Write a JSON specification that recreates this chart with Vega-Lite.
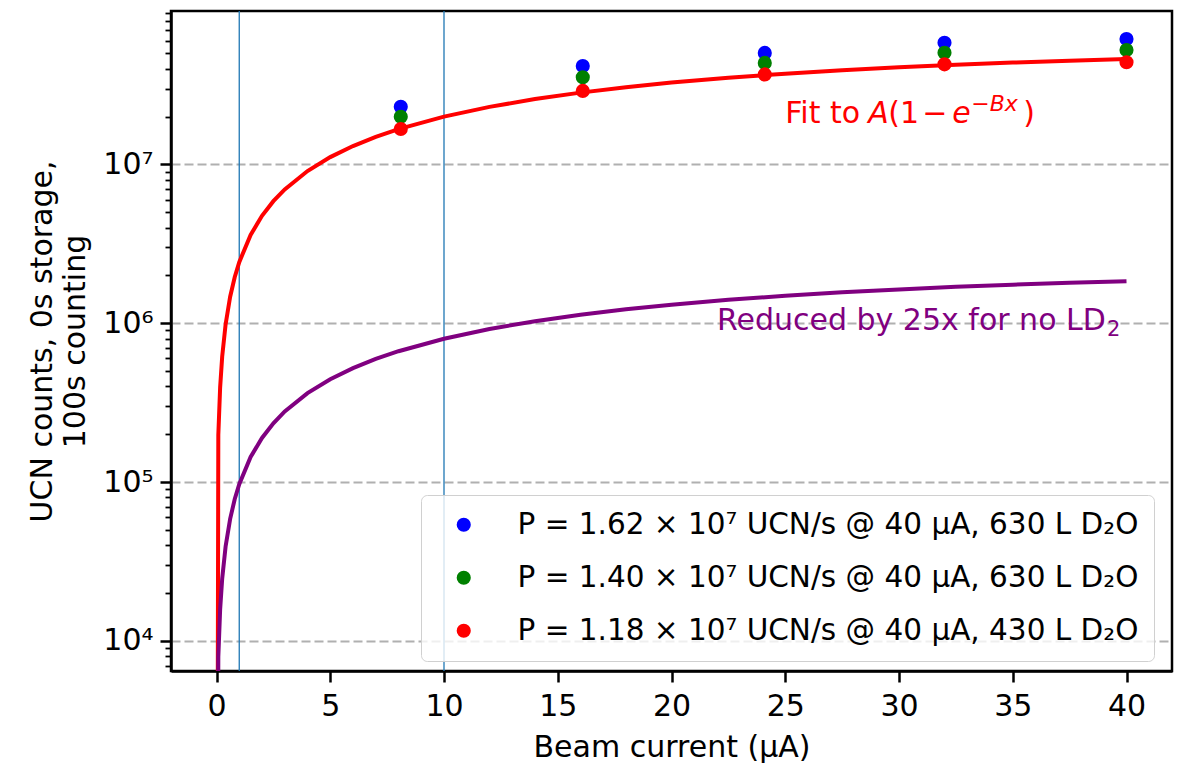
{
  "$schema": "https://vega.github.io/schema/vega-lite/v6.json",
  "width": 1001,
  "height": 660,
  "autosize": {"type": "none"},
  "padding": {"left": 171, "top": 11, "right": 7, "bottom": 93},
  "background": "white",
  "config": {
    "view": {"stroke": "black", "strokeWidth": 2.5},
    "font": "DejaVu Sans",
    "axis": {
      "domainColor": "black", "domainWidth": 2.5, "tickColor": "black",
      "labelColor": "black", "titleColor": "black",
      "labelFont": "DejaVu Sans", "titleFont": "DejaVu Sans",
      "titleFontWeight": "normal", "labelFontSize": 30, "titleFontSize": 30
    }
  },
  "datasets": {
    "vlines": [{"x": 1}, {"x": 10}],
    "fit": [
      {"x": 0, "y": 1}, {"x": 0.08, "y": 198000}, {"x": 0.16, "y": 395300}, {"x": 0.25, "y": 616400},
      {"x": 0.4, "y": 982900}, {"x": 0.6, "y": 1467800}, {"x": 0.8, "y": 1948300}, {"x": 1, "y": 2424600},
      {"x": 1.5, "y": 3596500}, {"x": 2, "y": 4742400}, {"x": 2.5, "y": 5863200}, {"x": 3, "y": 6958200},
      {"x": 4, "y": 9076600}, {"x": 5, "y": 11102000}, {"x": 6, "y": 13038000}, {"x": 7, "y": 14889000},
      {"x": 8, "y": 16658000}, {"x": 10, "y": 19967000}, {"x": 12, "y": 22991000}, {"x": 14, "y": 25754000},
      {"x": 16, "y": 28280000}, {"x": 18, "y": 30588000}, {"x": 20, "y": 32698000}, {"x": 22.5, "y": 35082000},
      {"x": 25, "y": 37212000}, {"x": 27.5, "y": 39115000}, {"x": 30, "y": 40816000}, {"x": 32.5, "y": 42337000},
      {"x": 35, "y": 43694000}, {"x": 37.5, "y": 44907000}, {"x": 40, "y": 45992000}
    ],
    "reduced": [
      {"x": 0, "y": 1}, {"x": 0.08, "y": 7920}, {"x": 0.16, "y": 15812}, {"x": 0.25, "y": 24656},
      {"x": 0.4, "y": 39316}, {"x": 0.6, "y": 58712}, {"x": 0.8, "y": 77932}, {"x": 1, "y": 96984},
      {"x": 1.5, "y": 143860}, {"x": 2, "y": 189696}, {"x": 2.5, "y": 234528}, {"x": 3, "y": 278328},
      {"x": 4, "y": 363064}, {"x": 5, "y": 444080}, {"x": 6, "y": 521520}, {"x": 7, "y": 595560},
      {"x": 8, "y": 666320}, {"x": 10, "y": 798680}, {"x": 12, "y": 919640}, {"x": 14, "y": 1030160},
      {"x": 16, "y": 1131200}, {"x": 18, "y": 1223520}, {"x": 20, "y": 1307920}, {"x": 22.5, "y": 1403280},
      {"x": 25, "y": 1488480}, {"x": 27.5, "y": 1564600}, {"x": 30, "y": 1632640}, {"x": 32.5, "y": 1693480},
      {"x": 35, "y": 1747760}, {"x": 37.5, "y": 1796280}, {"x": 40, "y": 1839680}
    ],
    "points": [
      {"x": 8.1, "y": 23000000, "series": "P = 1.62 × 10⁷ UCN/s @ 40 μA, 630 L D₂O"},
      {"x": 16.1, "y": 41600000, "series": "P = 1.62 × 10⁷ UCN/s @ 40 μA, 630 L D₂O"},
      {"x": 24.1, "y": 50300000, "series": "P = 1.62 × 10⁷ UCN/s @ 40 μA, 630 L D₂O"},
      {"x": 32, "y": 58200000, "series": "P = 1.62 × 10⁷ UCN/s @ 40 μA, 630 L D₂O"},
      {"x": 40, "y": 61500000, "series": "P = 1.62 × 10⁷ UCN/s @ 40 μA, 630 L D₂O"},
      {"x": 8.1, "y": 19900000, "series": "P = 1.40 × 10⁷ UCN/s @ 40 μA, 630 L D₂O"},
      {"x": 16.1, "y": 35300000, "series": "P = 1.40 × 10⁷ UCN/s @ 40 μA, 630 L D₂O"},
      {"x": 24.1, "y": 43500000, "series": "P = 1.40 × 10⁷ UCN/s @ 40 μA, 630 L D₂O"},
      {"x": 32, "y": 50400000, "series": "P = 1.40 × 10⁷ UCN/s @ 40 μA, 630 L D₂O"},
      {"x": 40, "y": 52400000, "series": "P = 1.40 × 10⁷ UCN/s @ 40 μA, 630 L D₂O"},
      {"x": 8.1, "y": 16700000, "series": "P = 1.18 × 10⁷ UCN/s @ 40 μA, 430 L D₂O"},
      {"x": 16.1, "y": 29000000, "series": "P = 1.18 × 10⁷ UCN/s @ 40 μA, 430 L D₂O"},
      {"x": 24.1, "y": 36800000, "series": "P = 1.18 × 10⁷ UCN/s @ 40 μA, 430 L D₂O"},
      {"x": 32, "y": 42600000, "series": "P = 1.18 × 10⁷ UCN/s @ 40 μA, 430 L D₂O"},
      {"x": 40, "y": 43900000, "series": "P = 1.18 × 10⁷ UCN/s @ 40 μA, 430 L D₂O"}
    ],
    "fitlabel": [{"x": 25, "y": 18100000}],
    "redlabel": [{"x": 22, "y": 906000}]
  },
  "layer": [
    {
      "data": {"name": "points"},
      "mark": {"type": "circle", "size": 200, "opacity": 1},
      "encoding": {
        "x": {
          "field": "x", "type": "quantitative",
          "scale": {"domain": [-2, 42], "nice": false, "zero": false},
          "axis": {
            "values": [0, 5, 10, 15, 20, 25, 30, 35, 40],
            "tickSize": 11, "tickWidth": 2.5, "labelPadding": 9,
            "title": "Beam current (μA)", "titlePadding": 11, "grid": false
          }
        },
        "y": {
          "field": "y", "type": "quantitative",
          "scale": {"type": "log", "domain": [6470, 92300000], "nice": false, "zero": false},
          "axis": {
            "values": [7000, 8000, 9000, 10000, 20000, 30000, 40000, 50000, 60000, 70000, 80000, 90000,
                       100000, 200000, 300000, 400000, 500000, 600000, 700000, 800000, 900000,
                       1000000, 2000000, 3000000, 4000000, 5000000, 6000000, 7000000, 8000000, 9000000,
                       10000000, 20000000, 30000000, 40000000, 50000000, 60000000, 70000000, 80000000, 90000000],
            "labelExpr": "indexof([10000,100000,1000000,10000000], datum.value) >= 0 ? '10' + ['⁴','⁵','⁶','⁷'][indexof([10000,100000,1000000,10000000], datum.value)] : ''",
            "tickSize": {"condition": {"test": "indexof([10000,100000,1000000,10000000], datum.value) >= 0", "value": 11}, "value": 6},
            "tickWidth": {"condition": {"test": "indexof([10000,100000,1000000,10000000], datum.value) >= 0", "value": 2.5}, "value": 1.8},
            "grid": true, "gridColor": "#b0b0b0", "gridDash": [9, 4], "gridWidth": 2,
            "gridOpacity": {"condition": {"test": "indexof([10000,100000,1000000,10000000], datum.value) >= 0", "value": 1}, "value": 0},
            "labelPadding": 7,
            "title": ["UCN counts, 0s storage,", "100s counting"],
            "titlePadding": 12, "titleLineHeight": 33
          }
        },
        "color": {
          "field": "series", "type": "nominal",
          "scale": {
            "domain": ["P = 1.62 × 10⁷ UCN/s @ 40 μA, 630 L D₂O", "P = 1.40 × 10⁷ UCN/s @ 40 μA, 630 L D₂O", "P = 1.18 × 10⁷ UCN/s @ 40 μA, 430 L D₂O"],
            "range": ["#0000ff", "#008000", "#ff0000"]
          },
          "legend": {
            "orient": "none", "legendX": 250, "legendY": 484, "title": null,
            "labelFontSize": 29.5, "labelFont": "DejaVu Sans", "labelColor": "black", "labelLimit": 1000,
            "symbolSize": 200, "symbolType": "circle", "symbolStrokeWidth": 0,
            "fillColor": "rgba(255,255,255,0.8)", "strokeColor": "#d0d0d0",
            "cornerRadius": 6, "padding": 15, "rowPadding": 22, "labelOffset": 39, "symbolOffset": 13
          }
        }
      }
    },
    {
      "data": {"name": "vlines"},
      "mark": {"type": "rule", "color": "#1f77b4", "strokeWidth": 1.3},
      "encoding": {"x": {"field": "x", "type": "quantitative"}}
    },
    {
      "data": {"name": "fit"},
      "mark": {"type": "line", "color": "#ff0000", "strokeWidth": 4, "clip": true},
      "encoding": {
        "x": {"field": "x", "type": "quantitative"},
        "y": {"field": "y", "type": "quantitative"}
      }
    },
    {
      "data": {"name": "reduced"},
      "mark": {"type": "line", "color": "#800080", "strokeWidth": 4, "clip": true},
      "encoding": {
        "x": {"field": "x", "type": "quantitative"},
        "y": {"field": "y", "type": "quantitative"}
      }
    },
    {
      "data": {"name": "fitlabel"},
      "mark": {"type": "text", "text": "Fit to", "color": "#ff0000", "fontSize": 30, "font": "DejaVu Sans", "align": "left", "baseline": "alphabetic"},
      "encoding": {"x": {"field": "x", "type": "quantitative"}, "y": {"field": "y", "type": "quantitative"}}
    },
    {
      "data": {"name": "fitlabel"},
      "mark": {"type": "text", "text": "A", "fontStyle": "italic", "dx": 83, "color": "#ff0000", "fontSize": 30, "font": "DejaVu Sans", "align": "left", "baseline": "alphabetic"},
      "encoding": {"x": {"field": "x", "type": "quantitative"}, "y": {"field": "y", "type": "quantitative"}}
    },
    {
      "data": {"name": "fitlabel"},
      "mark": {"type": "text", "text": "(1", "dx": 103, "color": "#ff0000", "fontSize": 30, "font": "DejaVu Sans", "align": "left", "baseline": "alphabetic"},
      "encoding": {"x": {"field": "x", "type": "quantitative"}, "y": {"field": "y", "type": "quantitative"}}
    },
    {
      "data": {"name": "fitlabel"},
      "mark": {"type": "text", "text": "−", "dx": 137, "color": "#ff0000", "fontSize": 30, "font": "DejaVu Sans", "align": "left", "baseline": "alphabetic"},
      "encoding": {"x": {"field": "x", "type": "quantitative"}, "y": {"field": "y", "type": "quantitative"}}
    },
    {
      "data": {"name": "fitlabel"},
      "mark": {"type": "text", "text": "e", "fontStyle": "italic", "dx": 167, "color": "#ff0000", "fontSize": 30, "font": "DejaVu Sans", "align": "left", "baseline": "alphabetic"},
      "encoding": {"x": {"field": "x", "type": "quantitative"}, "y": {"field": "y", "type": "quantitative"}}
    },
    {
      "data": {"name": "fitlabel"},
      "mark": {"type": "text", "text": "−Bx", "fontStyle": "italic", "dx": 186, "dy": -12, "color": "#ff0000", "fontSize": 22, "font": "DejaVu Sans", "align": "left", "baseline": "alphabetic"},
      "encoding": {"x": {"field": "x", "type": "quantitative"}, "y": {"field": "y", "type": "quantitative"}}
    },
    {
      "data": {"name": "fitlabel"},
      "mark": {"type": "text", "text": ")", "dx": 238, "color": "#ff0000", "fontSize": 30, "font": "DejaVu Sans", "align": "left", "baseline": "alphabetic"},
      "encoding": {"x": {"field": "x", "type": "quantitative"}, "y": {"field": "y", "type": "quantitative"}}
    },
    {
      "data": {"name": "redlabel"},
      "mark": {"type": "text", "text": "Reduced by 25x for no LD", "color": "#800080", "fontSize": 30, "font": "DejaVu Sans", "align": "left", "baseline": "alphabetic"},
      "encoding": {"x": {"field": "x", "type": "quantitative"}, "y": {"field": "y", "type": "quantitative"}}
    },
    {
      "data": {"name": "redlabel"},
      "mark": {"type": "text", "text": "2", "dx": 390, "dy": 6, "color": "#800080", "fontSize": 21, "font": "DejaVu Sans", "align": "left", "baseline": "alphabetic"},
      "encoding": {"x": {"field": "x", "type": "quantitative"}, "y": {"field": "y", "type": "quantitative"}}
    }
  ]
}
